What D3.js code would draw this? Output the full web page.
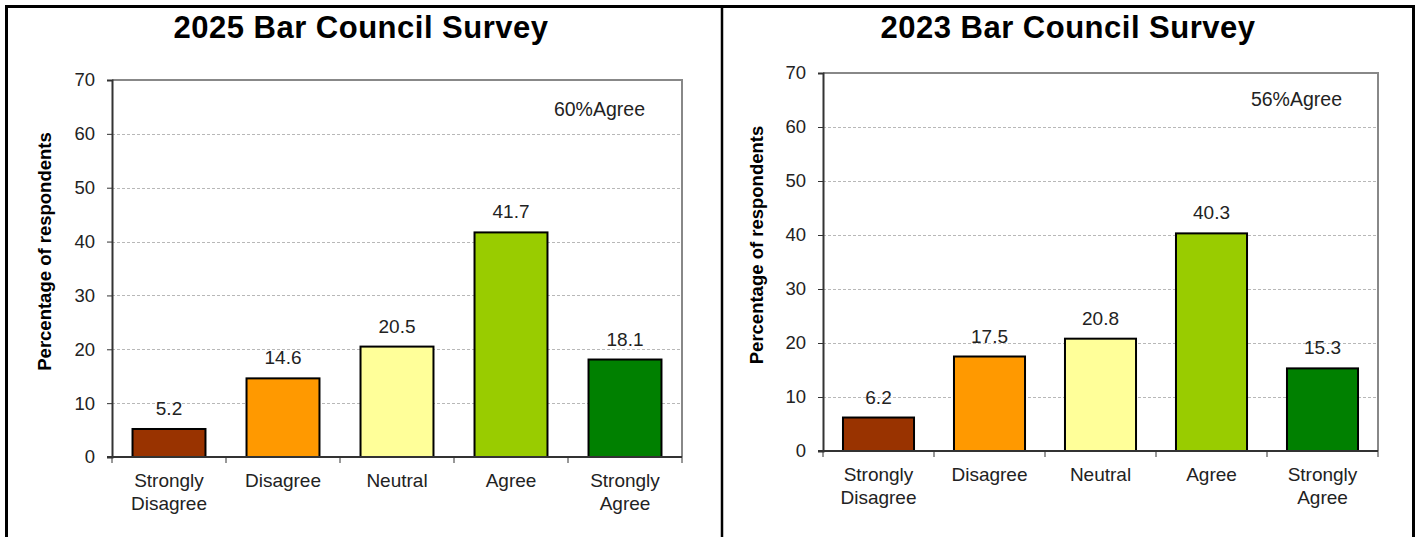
<!DOCTYPE html>
<html>
<head>
<meta charset="utf-8">
<script src="https://cdn.jsdelivr.net/npm/d3@7"></script>
<style>
  body { margin: 0; background: #fff; }
  svg { display: block; font-family: Arial, "Liberation Sans", sans-serif; }
</style>
</head>
<body>
<div id="canvas"></div>
<script>
// Data
var categories = ['Strongly Disagree', 'Disagree', 'Neutral', 'Agree', 'Strongly Agree'],
	colors = ['#993300', '#FF9900', '#FFFF99', '#99CC00', '#008000'],
	yTicks = [0, 10, 20, 30, 40, 50, 60, 70],
	values2025 = [5.2, 14.6, 20.5, 41.7, 18.1],
	values2023 = [6.2, 17.5, 20.8, 40.3, 15.3];

var panels = [
	{ title: '2025 Bar Council Survey', values: values2025, note: '60%Agree',
	  cx: 361, left: 112, right: 682, top: 80, bottom: 457, noteX: 645, noteY: 116, labelX: 51 },
	{ title: '2023 Bar Council Survey', values: values2023, note: '56%Agree',
	  cx: 1068, left: 823, right: 1378, top: 73, bottom: 451, noteX: 1342, noteY: 106, labelX: 763 }
];

var W = 1421, H = 537,
	textSize = 19;
var svg = d3.select('#canvas').append('svg').attr('width', W).attr('height', H);

// Outer frame
svg.append('rect').attr('x', 6.5).attr('y', 6.5).attr('width', 1407).attr('height', 600)
	.attr('fill', 'none').attr('stroke', '#000').attr('stroke-width', 3);
svg.append('line').attr('x1', 722).attr('x2', 722).attr('y1', 6).attr('y2', H)
	.attr('stroke', '#000').attr('stroke-width', 2.5);

panels.forEach(function(p) {
	var g = svg.append('g');
	var x = d3.scaleBand().domain(categories).range([p.left, p.right]).paddingInner(0.36).paddingOuter(0.18),
		xb = d3.scaleBand().domain(categories).range([p.left, p.right]),
		y = d3.scaleLinear().domain([0, 70]).range([p.bottom, p.top]);

	// Title
	g.append('text').attr('x', p.cx).attr('y', 38).attr('text-anchor', 'middle')
		.attr('font-size', 31).attr('font-weight', 'bold').attr('letter-spacing', 0.5)
		.attr('fill', '#000').text(p.title);

	// Grid lines
	g.selectAll('.grid').data(yTicks.slice(1, -1)).enter().append('line')
		.attr('x1', p.left).attr('x2', p.right)
		.attr('y1', function(d) { return Math.round(y(d)) + 0.5; })
		.attr('y2', function(d) { return Math.round(y(d)) + 0.5; })
		.attr('stroke', '#b8b8b8').attr('stroke-dasharray', '3,2');

	// Plot frame (top and right)
	g.append('path').attr('d', 'M' + p.left + ',' + p.top + 'H' + p.right + 'V' + p.bottom)
		.attr('fill', 'none').attr('stroke', '#888').attr('stroke-width', 2);

	// Bars
	g.selectAll('.bar').data(p.values).enter().append('rect')
		.attr('x', function(d, i) { return x(categories[i]); })
		.attr('width', x.bandwidth())
		.attr('y', function(d) { return y(d); })
		.attr('height', function(d) { return y(0) - y(d); })
		.attr('fill', function(d, i) { return colors[i]; })
		.attr('stroke', '#000').attr('stroke-width', 2);

	// Value labels
	g.selectAll('.val').data(p.values).enter().append('text')
		.attr('x', function(d, i) { return x(categories[i]) + x.bandwidth() / 2; })
		.attr('y', function(d) { return y(d) - 14; })
		.attr('text-anchor', 'middle').attr('font-size', textSize).attr('fill', '#222')
		.text(function(d) { return d.toFixed(1); });

	// Y axis
	var yAxis = g.append('g').attr('transform', 'translate(' + p.left + ',0)')
		.call(d3.axisLeft(y).tickValues(yTicks).tickSize(5).tickPadding(12));
	yAxis.select('.domain').attr('stroke', '#333').attr('stroke-width', 2);
	yAxis.selectAll('.tick line').attr('stroke', '#333');
	yAxis.selectAll('text').attr('font-size', textSize - 0.5).attr('fill', '#222').attr('font-family', null);

	// X axis
	var xAxis = g.append('g').attr('transform', 'translate(0,' + p.bottom + ')');
	xAxis.append('line').attr('x1', p.left - 5).attr('x2', p.right)
		.attr('stroke', '#333').attr('stroke-width', 2);
	xAxis.selectAll('.xt').data(d3.range(categories.length + 1)).enter().append('line')
		.attr('x1', function(i) { return p.left + i * xb.step(); })
		.attr('x2', function(i) { return p.left + i * xb.step(); })
		.attr('y1', 0).attr('y2', 6).attr('stroke', '#333');
	xAxis.selectAll('.xl').data(categories).enter().append('text')
		.attr('x', function(d) { return xb(d) + xb.bandwidth() / 2; })
		.attr('y', 30).attr('text-anchor', 'middle').attr('font-size', textSize).attr('fill', '#222')
		.each(function(d) {
			var words = d.split(' ');
			var t = d3.select(this);
			words.forEach(function(w, k) {
				t.append('tspan').attr('x', t.attr('x')).attr('dy', k ? 23 : 0).text(w);
			});
		});

	// Y label
	g.append('text')
		.attr('transform', 'translate(' + p.labelX + ',' + ((p.top + p.bottom) / 2 - 17) + ') rotate(-90)')
		.attr('text-anchor', 'middle').attr('font-size', 18.5).attr('font-weight', 'bold').attr('fill', '#000')
		.text('Percentage of respondents');

	// Note
	g.append('text').attr('x', p.noteX).attr('y', p.noteY).attr('text-anchor', 'end')
		.attr('font-size', 19.5).attr('fill', '#222').text(p.note);
});
</script>
</body>
</html>
